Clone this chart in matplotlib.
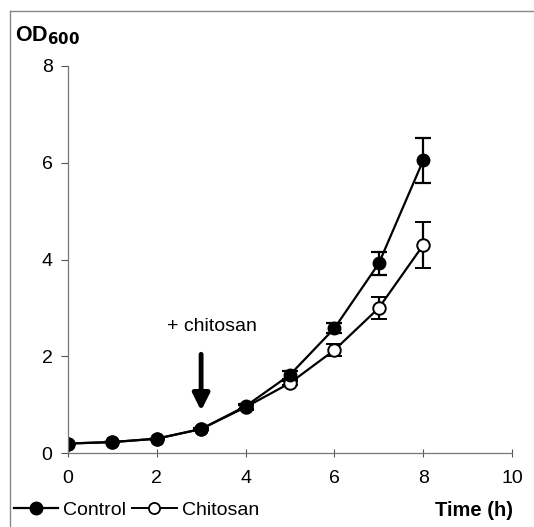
import numpy as np
import matplotlib.pyplot as plt
from matplotlib.lines import Line2D

plt.rcParams['font.family'] = ['Liberation Sans', 'DejaVu Sans']

# данные
time_h = [0, 1, 2, 3, 4, 5, 6, 7, 8]
control = [0.20, 0.23, 0.30, 0.50, 0.97, 1.62, 2.58, 3.92, 6.05]
control_err = [0.0, 0.0, 0.0, 0.03, 0.05, 0.08, 0.10, 0.23, 0.47]
chitosan = [0.20, 0.23, 0.30, 0.50, 0.95, 1.45, 2.13, 3.00, 4.30]
chitosan_err = [0.0, 0.0, 0.0, 0.03, 0.05, 0.05, 0.12, 0.22, 0.48]
x_ticks = [0, 2, 4, 6, 8, 10]
y_ticks = [0, 2, 4, 6, 8]

fig = plt.figure(figsize=(5.34, 5.27), dpi=100)
ax = fig.add_axes([0.127, 0.140, 0.832, 0.735])

ax.errorbar(time_h, chitosan, yerr=chitosan_err, color='black', lw=1.6,
            marker='o', ms=9, mfc='white', mec='black', mew=1.4,
            ecolor='black', elinewidth=1.6, capsize=6, capthick=1.6)
ax.errorbar(time_h, control, yerr=control_err, color='black', lw=1.6,
            marker='o', ms=9, mfc='black', mec='black',
            ecolor='black', elinewidth=1.6, capsize=6, capthick=1.6)

ax.set_xlim(0, 10)
ax.set_ylim(0, 8)
ax.set_xticks(x_ticks)
ax.set_yticks(y_ticks)
ax.tick_params(axis='x', direction='inout', length=6, width=0.8, colors='#555555',
               labelcolor='black', labelsize=14, pad=9)
ax.tick_params(axis='y', direction='out', length=5, width=0.8, colors='#555555',
               labelcolor='black', labelsize=14, pad=6)
for s in ['top', 'right']:
    ax.spines[s].set_visible(False)
for s in ['left', 'bottom']:
    ax.spines[s].set_color('#777777')
    ax.spines[s].set_linewidth(0.9)

# стрелка добавления хитозана
ax.annotate('', xy=(3, 0.82), xytext=(3, 2.1),
            arrowprops=dict(arrowstyle='-|>,head_width=0.5,head_length=1.0',
                            color='black', lw=3.5))
ax.text(3.25, 2.62, '+ chitosan', ha='center', va='center', fontsize=14)

fig.text(0.028, 0.933, 'OD$_{\\mathbf{600}}$', fontsize=15.5, fontweight='bold',
         ha='left', va='center')
fig.text(0.96, 0.032, 'Time (h)', fontsize=14.5, fontweight='bold',
         ha='right', va='center')

handles = [
    Line2D([], [], color='black', lw=1.6, marker='o', ms=9, mfc='black'),
    Line2D([], [], color='black', lw=1.4, marker='o', ms=8, mfc='white', mew=1.3),
]
fig.legend(handles, ['Control', 'Chitosan'], loc='center left',
           bbox_to_anchor=(0.0, 0.032), ncol=2, frameon=False, fontsize=14,
           handlelength=2.3, handletextpad=0.25, columnspacing=0.3,
           borderaxespad=0.3)

# рамка рисунка
fig.add_artist(Line2D([0.019, 1.0], [0.979, 0.979], color='#888888', lw=1.0,
                      transform=fig.transFigure))
fig.add_artist(Line2D([0.019, 0.019], [0.0, 0.979], color='#888888', lw=1.0,
                      transform=fig.transFigure))

fig.savefig('out.png', dpi=100)
